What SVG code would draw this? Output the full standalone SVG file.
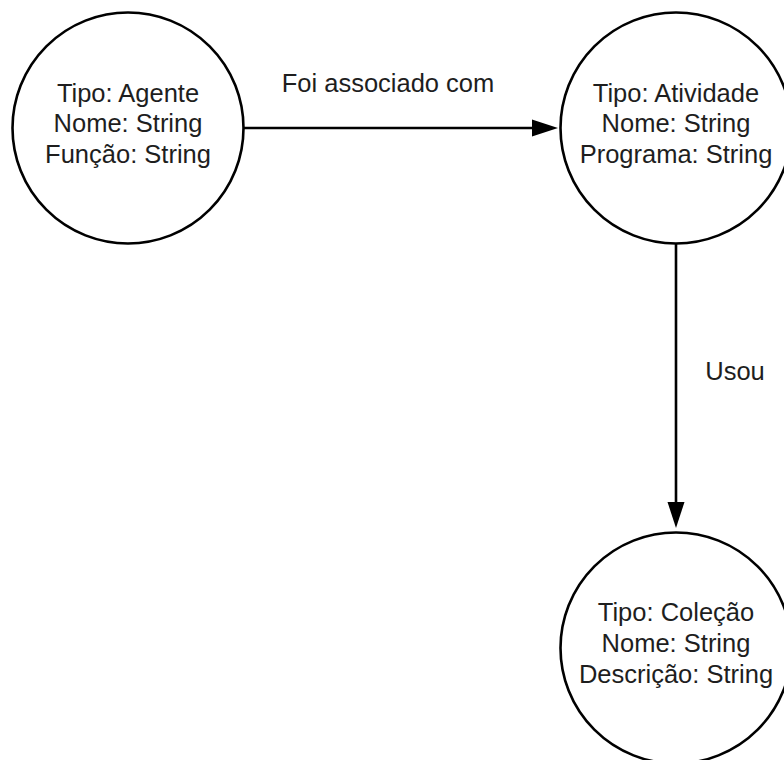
<svg xmlns="http://www.w3.org/2000/svg" width="784" height="760" viewBox="0 0 784 760">
  <defs>
    <style>
      .node circle { fill: #ffffff; stroke: #000000; stroke-width: 2.6; }
      .node text, .label { font-family: "Liberation Sans", Arial, sans-serif; font-size: 25.5px; fill: #1e1e1e; text-anchor: middle; }
      .edge line { stroke: #000000; stroke-width: 2.6; fill: none; }
      .edge polygon { fill: #000000; stroke: none; }
    </style>
  </defs>
  <rect width="784" height="760" fill="#ffffff"/>

  <!-- connectors -->
  <g id="connectors">
    <g class="edge" id="edge-agente-atividade">
      <line x1="243.5" y1="128" x2="534" y2="128"/>
      <polygon points="532,119.5 558,128 532,136.5"/>
      <text class="label" x="388" y="91.5">Foi associado com</text>
    </g>
    <g class="edge" id="edge-atividade-colecao">
      <line x1="676" y1="243.5" x2="676" y2="504"/>
      <polygon points="667.5,502 684.5,502 676,528"/>
      <text class="label" x="735" y="380">Usou</text>
    </g>
  </g>

  <!-- nodes -->
  <g class="node" id="node-agente">
    <circle cx="128" cy="128" r="115.5"/>
    <text x="128" y="101.5">Tipo: Agente</text>
    <text x="128" y="132">Nome: String</text>
    <text x="128" y="162.5">Função: String</text>
  </g>

  <g class="node" id="node-atividade">
    <circle cx="676" cy="128" r="115.5"/>
    <text x="676" y="101.5">Tipo: Atividade</text>
    <text x="676" y="132">Nome: String</text>
    <text x="676" y="162.5">Programa: String</text>
  </g>

  <g class="node" id="node-colecao">
    <circle cx="676" cy="648" r="115.5"/>
    <text x="676" y="621">Tipo: Coleção</text>
    <text x="676" y="651.5">Nome: String</text>
    <text x="676" y="682.5">Descrição: String</text>
  </g>
</svg>
